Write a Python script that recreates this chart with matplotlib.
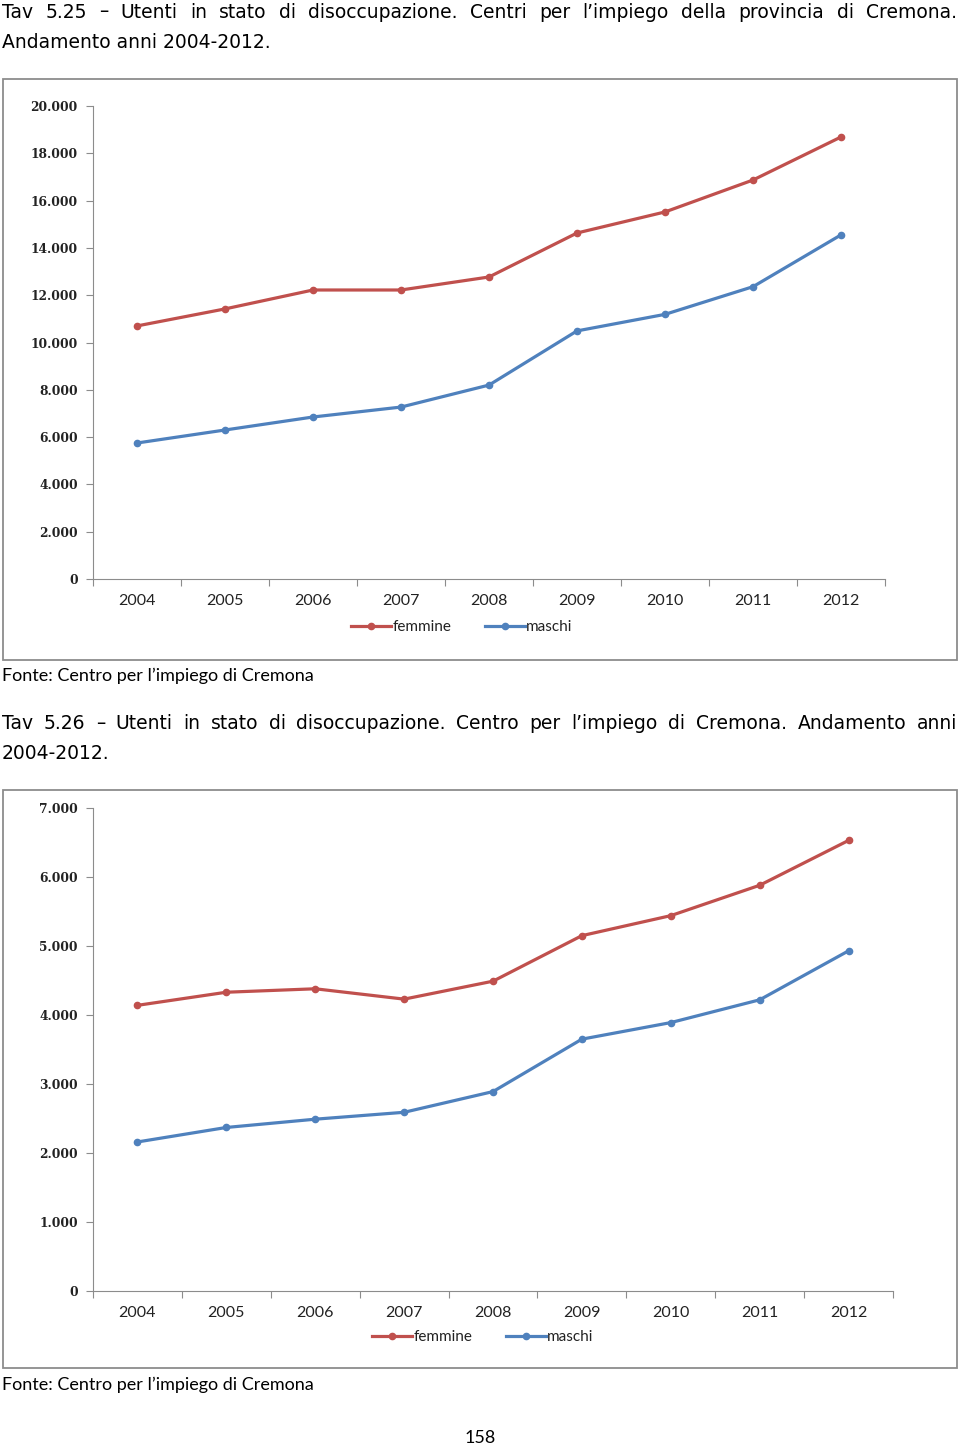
import matplotlib
matplotlib.use('Agg')
import matplotlib.pyplot as plt
from matplotlib.patches import Rectangle
from matplotlib.ticker import FuncFormatter

anni = ['2004', '2005', '2006', '2007', '2008', '2009', '2010', '2011', '2012']

# Tav 5.25 - provincia di Cremona
femmine_prov = [10700, 11420, 12220, 12220, 12770, 14630, 15520, 16870, 18690]
maschi_prov = [5750, 6300, 6850, 7270, 8200, 10490, 11190, 12360, 14550]

# Tav 5.26 - centro per l'impiego di Cremona
femmine_cr = [4140, 4330, 4380, 4230, 4490, 5150, 5440, 5880, 6530]
maschi_cr = [2160, 2370, 2490, 2590, 2890, 3650, 3890, 4220, 4930]

titolo1 = "Tav 5.25 \u2013 Utenti in stato di disoccupazione. Centri per l\u2019impiego della provincia di Cremona."
titolo1b = "Andamento anni 2004-2012."
titolo2 = "Tav 5.26 \u2013 Utenti in stato di disoccupazione. Centro per l\u2019impiego di Cremona. Andamento anni"
titolo2b = "2004-2012."
fonte = "Fonte: Centro per l\u2019impiego di Cremona"

W, H = 960, 1448
ROSSO = '#C0504D'
BLU = '#4F81BD'
NARROW = 'Lato'

fig = plt.figure(figsize=(W / 100, H / 100), dpi=100)


def fy(y):
    return 1 - y / H


def riga_giustificata(testo, y, x0=2, x1=957, size=13.5):
    # parole distribuite su tutta la larghezza (testo giustificato)
    parole = testo.split(' ')
    objs = [fig.text(0, fy(y), p, fontsize=size, va='center', ha='left',
                     family='DejaVu Sans') for p in parole]
    fig.canvas.draw()
    r = fig.canvas.get_renderer()
    larg = [o.get_window_extent(r).width for o in objs]
    spazio = (x1 - x0 - sum(larg)) / (len(parole) - 1)
    x = x0
    for o, w in zip(objs, larg):
        o.set_x(x / W)
        x += w + spazio


def box(y0, y1):
    r = Rectangle((3 / W, fy(y1)), 954 / W, (y1 - y0) / H,
                  transform=fig.transFigure, facecolor='none',
                  edgecolor='#8c8c8c', lw=1.3, zorder=-5)
    fig.add_artist(r)


def grafico(left, right, top, bottom, femm, masc, ymax, step, leg_x, leg_y):
    ax = fig.add_axes([left / W, fy(bottom), (right - left) / W, (bottom - top) / H])
    x = range(len(anni))
    ax.plot(x, femm, color=ROSSO, lw=2.3, marker='o', ms=4.5, label='femmine')
    ax.plot(x, masc, color=BLU, lw=2.3, marker='o', ms=4.5, label='maschi')
    ax.set_xlim(-0.5, len(anni) - 0.5)
    ax.set_ylim(0, ymax)
    ax.set_yticks(range(0, ymax + 1, step))
    ax.yaxis.set_major_formatter(FuncFormatter(lambda v, p: f"{int(v):,}".replace(',', '.')))
    ax.set_xticks([i - 0.5 for i in range(len(anni) + 1)])
    ax.set_xticklabels([])
    ax.set_xticks(list(x), minor=True)
    ax.set_xticklabels(anni, minor=True, fontsize=11.5, family=NARROW, color='#222222')
    ax.tick_params(axis='x', which='minor', length=0, pad=11)
    ax.tick_params(axis='x', which='major', length=5, color='#8c8c8c', direction='out')
    ax.tick_params(axis='y', length=5, color='#8c8c8c', pad=6)
    for lab in ax.get_yticklabels():
        lab.set_family('DejaVu Serif')
        lab.set_fontweight('bold')
        lab.set_fontsize(8.8)
        lab.set_color('#222222')
    for s in ['top', 'right']:
        ax.spines[s].set_visible(False)
    for s in ['left', 'bottom']:
        ax.spines[s].set_color('#8c8c8c')
    ax.patch.set_alpha(0)
    leg = ax.legend(loc='center', bbox_to_anchor=(leg_x / W, fy(leg_y)),
                    bbox_transform=fig.transFigure, ncol=2, frameon=False,
                    prop={'family': NARROW, 'size': 11}, handlelength=2.6,
                    handletextpad=0.1, columnspacing=2.2)
    for t in leg.get_texts():
        t.set_color('#222222')
    return ax


# primo grafico
riga_giustificata(titolo1, 12)
fig.text(2 / W, fy(43), titolo1b, fontsize=13.5, va='center', family='DejaVu Sans')
box(79, 660)
grafico(93, 885, 106, 579, femmine_prov, maschi_prov, 20000, 2000, 462, 627)
fig.text(2 / W, fy(676), fonte, fontsize=13, va='center', family=NARROW)

# secondo grafico
riga_giustificata(titolo2, 723)
fig.text(2 / W, fy(753), titolo2b, fontsize=13.5, va='center', family='DejaVu Sans')
box(790, 1368)
grafico(93, 893, 808, 1291, femmine_cr, maschi_cr, 7000, 1000, 483, 1337)
fig.text(2 / W, fy(1385), fonte, fontsize=13, va='center', family=NARROW)

fig.text(480 / W, fy(1438), '158', fontsize=13, ha='center', va='center', family=NARROW)

fig.savefig('out.png', dpi=100)
